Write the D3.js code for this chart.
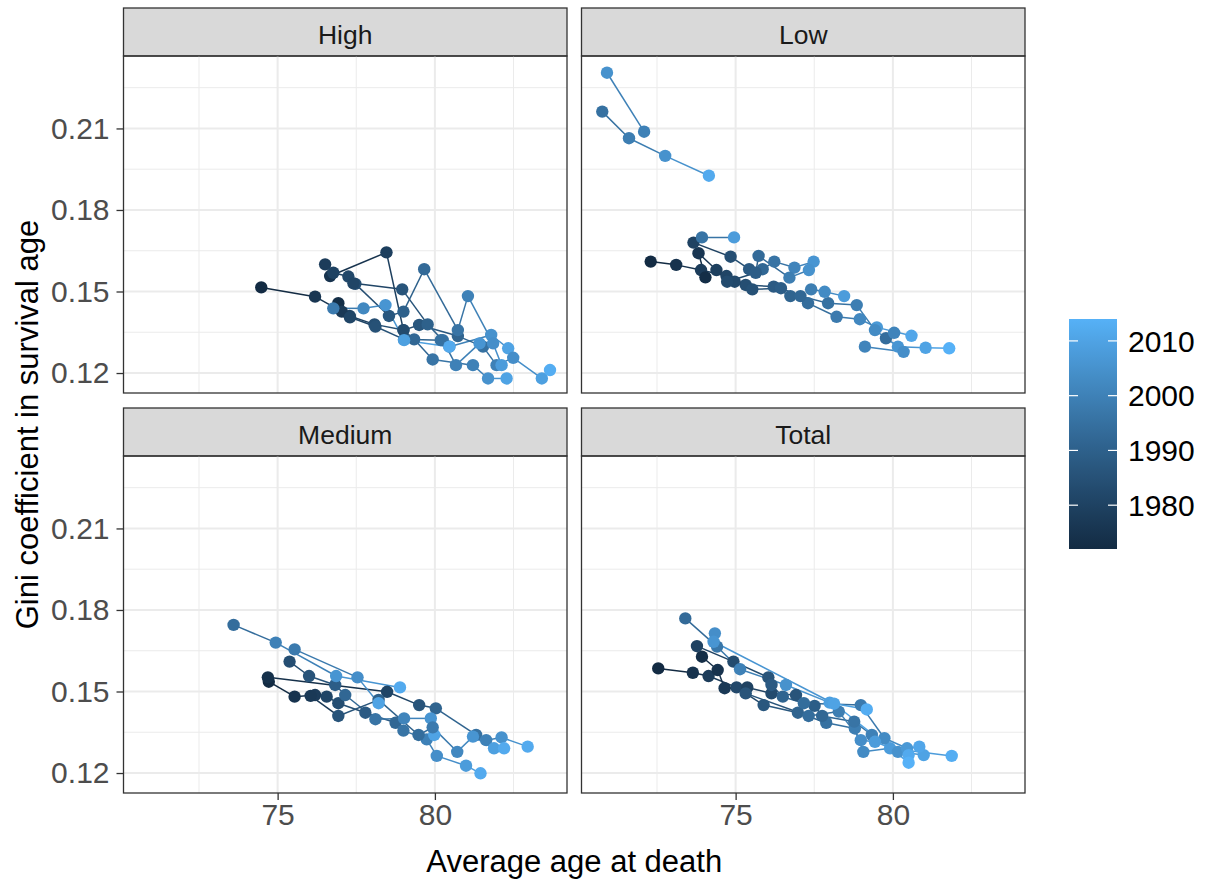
<!DOCTYPE html>
<html>
<head>
<meta charset="utf-8">
<script src="https://cdn.jsdelivr.net/npm/d3@7"></script>
<style>
  body { margin: 0; background: #fff; }
  svg text { font-family: "Liberation Sans", Arial, sans-serif; }
</style>
</head>
<body>
<script>
const panelNames = ['High', 'Low', 'Medium', 'Total'];
const xTicks = [75, 80];
const xMinor = [72.5, 77.5, 82.5];
const yTicks = [0.12, 0.15, 0.18, 0.21];
const yMinor = [0.135, 0.165, 0.195, 0.225];
const legendTicks = [1980, 1990, 2000, 2010];

// one inner array per path, points in year order
const highAge = [
  [74.48, 76.19, 77.29, 78.08, 79.00, 79.34, 79.93, 81.21, 81.69, 82.28],
  [76.93, 77.04, 77.30, 78.11, 79.02, 80.19, 80.46, 81.79, 82.33],
  [76.67, 78.46, 79.00, 79.50, 80.73, 81.53, 81.96, 82.49, 83.40, 83.66],
  [76.51, 76.77, 77.25, 77.47, 78.54, 79.00, 79.66, 80.73, 81.05, 81.85, 82.12],
  [77.41, 78.96, 79.77, 80.25, 80.67, 81.42],
  [76.77, 77.73, 78.43, 79.02, 80.46]
];
const highGini = [
  [0.1515, 0.1481, 0.1410, 0.1379, 0.1358, 0.1324, 0.1250, 0.1229, 0.1180, 0.1180],
  [0.1457, 0.1426, 0.1405, 0.1371, 0.1324, 0.1321, 0.1297, 0.1340, 0.1291],
  [0.1557, 0.1644, 0.1358, 0.1377, 0.1336, 0.1297, 0.1229, 0.1256, 0.1180, 0.1211],
  [0.1600, 0.1569, 0.1555, 0.1528, 0.1410, 0.1426, 0.1582, 0.1358, 0.1483, 0.1309, 0.1229],
  [0.1530, 0.1508, 0.1379, 0.1321, 0.1229, 0.1309],
  [0.1438, 0.1438, 0.1450, 0.1321, 0.1297]
];
const highYear = [
  [1972, 1976, 1980, 1984, 1988, 1992, 1996, 2000, 2005, 2010],
  [1973, 1977, 1981, 1985, 1990, 1995, 2000, 2005, 2010],
  [1975, 1979, 1983, 1987, 1991, 1995, 2000, 2004, 2009, 2013],
  [1978, 1980, 1982, 1984, 1987, 1990, 1993, 1996, 2000, 2004, 2008],
  [1981, 1986, 1990, 1995, 2000, 2006],
  [1998, 2002, 2006, 2009, 2012]
];

const lowAge = [
  [72.09, 70.91],
  [70.76, 71.61, 72.76, 74.15],
  [72.30, 73.11, 73.90, 74.71, 75.32, 76.21, 76.74, 77.30, 78.21, 78.95, 79.49, 80.59],
  [74.04, 73.82, 74.39, 74.97, 75.53, 76.44, 77.06, 77.94, 78.85, 79.43, 80.16, 81.04, 81.79],
  [73.66, 74.84, 75.43, 75.86, 76.23, 76.87, 77.48],
  [73.93, 74.95],
  [74.73, 75.64, 75.73, 76.71, 77.33],
  [77.40, 77.83, 78.45],
  [79.11, 80.34],
  [79.78, 80.04]
];
const lowGini = [
  [0.2088, 0.2305],
  [0.2162, 0.2064, 0.1999, 0.1926],
  [0.1610, 0.1598, 0.1579, 0.1557, 0.1524, 0.1518, 0.1483, 0.1457, 0.1407, 0.1398, 0.1368, 0.1337],
  [0.1552, 0.1641, 0.1579, 0.1536, 0.1508, 0.1512, 0.1483, 0.1457, 0.1450, 0.1358, 0.1297, 0.1293, 0.1291],
  [0.1680, 0.1628, 0.1582, 0.1582, 0.1610, 0.1588, 0.1610],
  [0.1699, 0.1699],
  [0.1536, 0.1569, 0.1631, 0.1551, 0.1579],
  [0.1508, 0.1499, 0.1483],
  [0.1297, 0.1278],
  [0.1328, 0.1348]
];
const lowYear = [
  [2000, 2005],
  [1995, 1999, 2005, 2012],
  [1972, 1975, 1978, 1981, 1984, 1988, 1991, 1994, 1998, 2002, 2007, 2011],
  [1973, 1976, 1979, 1982, 1985, 1989, 1992, 1995, 1999, 2003, 2006, 2010, 2014],
  [1980, 1984, 1988, 1992, 1996, 2001, 2006],
  [1996, 2008],
  [1983, 1989, 1993, 1999, 2005],
  [1999, 2003, 2008],
  [2001, 2004],
  [1994, 2001]
];

const mediumAge = [
  [74.72, 75.54, 76.19, 76.56, 76.93, 77.79, 78.75, 79.00, 79.74, 80.06, 80.99, 81.45],
  [74.69, 78.48, 79.50, 80.03, 81.31, 81.63, 82.12, 82.95],
  [75.38, 76.00, 76.83, 77.15, 78.11, 79.02, 79.87, 79.98],
  [73.60, 74.94, 76.86, 78.89],
  [76.05, 76.93, 78.21, 79.48, 79.93, 80.71, 81.21, 81.88, 82.20],
  [75.54, 77.54, 78.21]
];
const mediumGini = [
  [0.1536, 0.1481, 0.1487, 0.1481, 0.1457, 0.1422, 0.1385, 0.1356, 0.1324, 0.1263, 0.1227, 0.1199],
  [0.1552, 0.1499, 0.1450, 0.1438, 0.1340, 0.1321, 0.1331, 0.1297],
  [0.1610, 0.1557, 0.1524, 0.1487, 0.1398, 0.1401, 0.1401, 0.1340],
  [0.1745, 0.1680, 0.1557, 0.1515],
  [0.1484, 0.1410, 0.1469, 0.1340, 0.1368, 0.1278, 0.1334, 0.1291, 0.1291],
  [0.1655, 0.1552, 0.1457]
];
const mediumYear = [
  [1972, 1975, 1978, 1981, 1984, 1988, 1992, 1996, 2000, 2004, 2008, 2012],
  [1974, 1981, 1986, 1991, 1995, 2000, 2005, 2012],
  [1984, 1986, 1989, 1992, 1996, 2001, 2006, 2010],
  [1994, 2000, 2006, 2012],
  [1977, 1986, 1990, 1994, 1998, 2002, 2006, 2009, 2012],
  [1998, 2004, 2010]
];

const totalAge = [
  [72.54, 73.64, 74.14, 75.03, 75.89, 76.98, 77.88, 78.79, 79.06, 79.91, 81.87],
  [73.93, 74.43, 74.65, 75.37, 76.14, 76.92, 77.51, 77.75, 78.77, 79.33, 80.16, 80.98],
  [73.77, 74.93, 76.04, 76.14, 76.50, 77.17, 78.98, 79.73, 80.45, 80.84],
  [73.40, 74.41, 75.14, 76.60, 77.99, 79.17],
  [75.32, 77.32, 78.28, 78.98, 79.43, 80.50],
  [74.34, 74.30, 78.13, 80.50]
];
const totalGini = [
  [0.1585, 0.1569, 0.1557, 0.1515, 0.1450, 0.1422, 0.1385, 0.1364, 0.1278, 0.1291, 0.1263],
  [0.1628, 0.1579, 0.1512, 0.1515, 0.1493, 0.1487, 0.1447, 0.1410, 0.1389, 0.1340, 0.1278, 0.1266],
  [0.1667, 0.1610, 0.1552, 0.1524, 0.1481, 0.1457, 0.1450, 0.1328, 0.1291, 0.1297],
  [0.1769, 0.1665, 0.1582, 0.1524, 0.1459, 0.1434],
  [0.1493, 0.1410, 0.1426, 0.1321, 0.1315, 0.1266],
  [0.1714, 0.1683, 0.1455, 0.1238]
];
const totalYear = [
  [1972, 1975, 1978, 1982, 1987, 1991, 1995, 1999, 2003, 2008, 2013],
  [1973, 1975, 1977, 1980, 1983, 1986, 1989, 1992, 1996, 2000, 2005, 2010],
  [1980, 1983, 1986, 1988, 1991, 1994, 1998, 2003, 2007, 2011],
  [1993, 1997, 2000, 2005, 2009, 2013],
  [1986, 1994, 1999, 2004, 2008, 2012],
  [2004, 2006, 2010, 2014]
];

const panelData = [
  [highAge, highGini, highYear],
  [lowAge, lowGini, lowYear],
  [mediumAge, mediumGini, mediumYear],
  [totalAge, totalGini, totalYear]
];

const width = 1209, height = 886;
const panelW = 443.5, panelH = 337, stripH = 48;
const colX = [123.5, 581.5];
const rowY = [8, 408];

const svg = d3.select('body').append('svg')
    .attr('width', width)
    .attr('height', height);

const x = d3.scaleLinear().domain([70.1, 84.2]).range([0, panelW]);
const y = d3.scaleLinear().domain([0.11265, 0.23666]).range([panelH, 0]);
const colour = d3.scaleLinear()
    .domain([1972, 2014])
    .range(['#132B43', '#56B1F7'])
    .interpolate(d3.interpolateLab);

panelNames.forEach(function (name, i) {
    const col = i % 2, row = Math.floor(i / 2);
    const g = svg.append('g')
        .attr('transform', `translate(${colX[col]}, ${rowY[row]})`);

    // strip
    g.append('rect')
        .attr('width', panelW).attr('height', stripH)
        .attr('fill', '#D9D9D9').attr('stroke', '#333333').attr('stroke-width', 1.3);
    g.append('text')
        .attr('x', panelW / 2).attr('y', stripH / 2 + 12)
        .attr('text-anchor', 'middle')
        .attr('font-size', 26.5).attr('fill', '#1A1A1A')
        .text(name);

    const p = g.append('g').attr('transform', `translate(0, ${stripH})`);

    // grid
    p.selectAll('.vminor').data(xMinor).enter().append('line')
        .attr('x1', d => x(d)).attr('x2', d => x(d)).attr('y1', 0).attr('y2', panelH)
        .attr('stroke', '#EBEBEB').attr('stroke-width', 1);
    p.selectAll('.hminor').data(yMinor).enter().append('line')
        .attr('y1', d => y(d)).attr('y2', d => y(d)).attr('x1', 0).attr('x2', panelW)
        .attr('stroke', '#EBEBEB').attr('stroke-width', 1);
    p.selectAll('.vmajor').data(xTicks).enter().append('line')
        .attr('x1', d => x(d)).attr('x2', d => x(d)).attr('y1', 0).attr('y2', panelH)
        .attr('stroke', '#EBEBEB').attr('stroke-width', 2);
    p.selectAll('.hmajor').data(yTicks).enter().append('line')
        .attr('y1', d => y(d)).attr('y2', d => y(d)).attr('x1', 0).attr('x2', panelW)
        .attr('stroke', '#EBEBEB').attr('stroke-width', 2);

    const [ages, ginis, years] = panelData[i];

    // path segments take the colour of their first point
    const segs = [];
    const pts = [];
    ages.forEach(function (a, s) {
        a.forEach(function (v, k) {
            pts.push({ age: v, gini: ginis[s][k], year: years[s][k] });
            if (k < a.length - 1) {
                segs.push({ a0: v, g0: ginis[s][k], a1: a[k + 1], g1: ginis[s][k + 1], year: years[s][k] });
            }
        });
    });

    p.selectAll('.seg').data(segs).enter().append('line')
        .attr('x1', d => x(d.a0)).attr('y1', d => y(d.g0))
        .attr('x2', d => x(d.a1)).attr('y2', d => y(d.g1))
        .attr('stroke', d => colour(d.year))
        .attr('stroke-width', 1.5);

    p.selectAll('.pt').data(pts).enter().append('circle')
        .attr('cx', d => x(d.age)).attr('cy', d => y(d.gini))
        .attr('r', 6.2)
        .attr('fill', d => colour(d.year));

    p.append('rect')
        .attr('width', panelW).attr('height', panelH)
        .attr('fill', 'none').attr('stroke', '#333333').attr('stroke-width', 1.3);

    // axes only on outer panels
    if (row === 1) {
        const ax = p.append('g')
            .attr('transform', `translate(0, ${panelH})`)
            .call(d3.axisBottom(x).tickValues(xTicks).tickSize(7).tickPadding(4));
        styleAxis(ax);
    }
    if (col === 0) {
        const ay = p.append('g')
            .call(d3.axisLeft(y).tickValues(yTicks).tickSize(7).tickPadding(7).tickFormat(d3.format('.2f')));
        styleAxis(ay);
    }
});

function styleAxis(sel) {
    sel.select('.domain').remove();
    sel.selectAll('line').attr('stroke', '#333333').attr('stroke-width', 1.3);
    sel.selectAll('text')
        .attr('font-size', 30)
        .attr('fill', '#4D4D4D')
        .style('font-family', '"Liberation Sans", Arial, sans-serif');
}

// axis titles
svg.append('text')
    .attr('x', colX[0] + (colX[1] + panelW - colX[0]) / 2)
    .attr('y', 872)
    .attr('text-anchor', 'middle')
    .attr('font-size', 31)
    .text('Average age at death');

svg.append('text')
    .attr('transform', `translate(38, ${(rowY[0] + stripH + rowY[1] + stripH + panelH) / 2}) rotate(-90)`)
    .attr('text-anchor', 'middle')
    .attr('font-size', 31)
    .text('Gini coefficient in survival age');

// colour bar legend
const barX = 1069, barW = 48, barTop = 319, barH = 230;
const ly = d3.scaleLinear().domain([1972, 2014]).range([barTop + barH, barTop]);

const grad = svg.append('defs').append('linearGradient')
    .attr('id', 'yearGrad')
    .attr('x1', 0).attr('y1', 1).attr('x2', 0).attr('y2', 0);
d3.range(0, 1.0001, 0.05).forEach(function (t) {
    grad.append('stop')
        .attr('offset', t)
        .attr('stop-color', colour(1972 + t * 42));
});

svg.append('rect')
    .attr('x', barX).attr('y', barTop)
    .attr('width', barW).attr('height', barH)
    .attr('fill', 'url(#yearGrad)');

const lg = svg.append('g');
lg.selectAll('.tl').data(legendTicks).enter().append('line')
    .attr('x1', barX).attr('x2', barX + 9)
    .attr('y1', d => ly(d)).attr('y2', d => ly(d))
    .attr('stroke', '#fff').attr('stroke-width', 1.2);
lg.selectAll('.tr').data(legendTicks).enter().append('line')
    .attr('x1', barX + barW - 9).attr('x2', barX + barW)
    .attr('y1', d => ly(d)).attr('y2', d => ly(d))
    .attr('stroke', '#fff').attr('stroke-width', 1.2);
lg.selectAll('.lab').data(legendTicks).enter().append('text')
    .attr('x', barX + barW + 11)
    .attr('y', d => ly(d))
    .attr('dy', '0.36em')
    .attr('font-size', 30)
    .attr('fill', '#000')
    .text(d => d);
</script>
</body>
</html>
